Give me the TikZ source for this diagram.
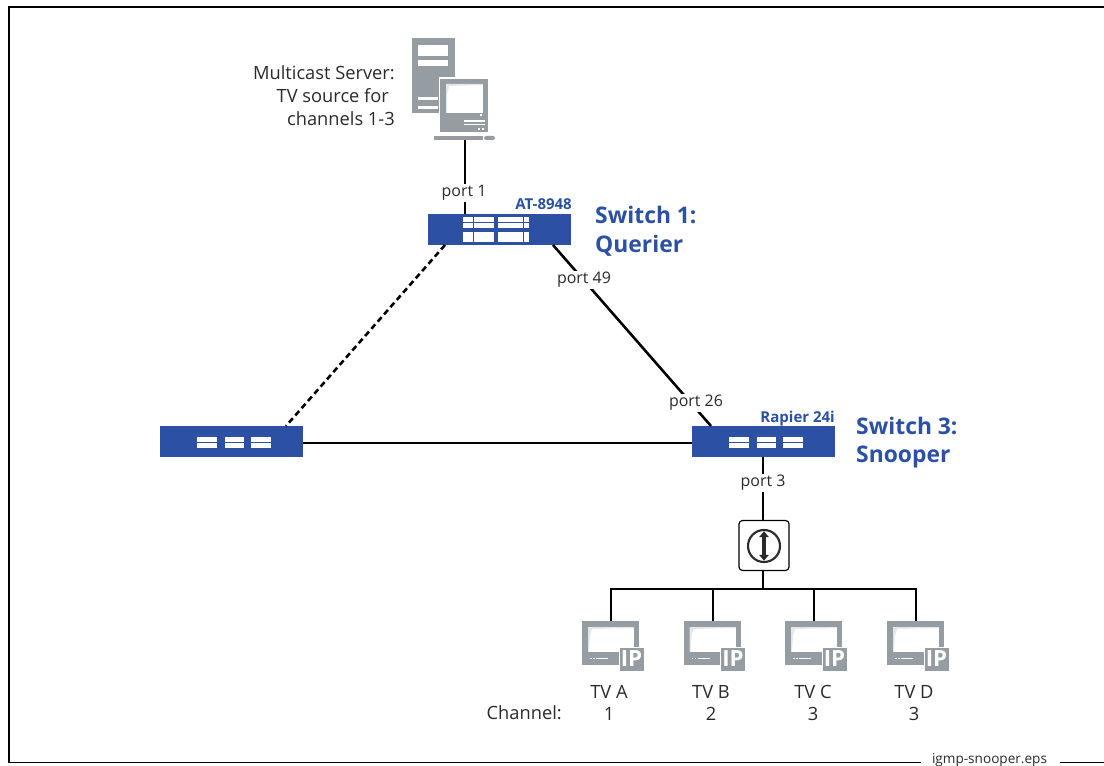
\documentclass[tikz,border=0pt]{standalone}
\usepackage{fontspec}
\setmainfont{Open Sans}
\usetikzlibrary{arrows.meta}
\definecolor{swblue}{HTML}{2B50A4}
\definecolor{icongrey}{HTML}{959CA2}
\definecolor{inkgrey}{HTML}{2A2A2A}
\tikzset{
  link/.style={line width=2.2pt,black},
  frameline/.style={line width=1.4pt,black},
  switchbox/.style={fill=swblue,draw=none,inner sep=0pt,minimum width=4.29cm,minimum height=0.93cm},
  portlabel/.style={fill=white,inner sep=1pt,text=inkgrey,font=\fontsize{13.6}{15}\selectfont},
  plainlabel/.style={text=inkgrey,inner sep=0pt,font=\fontsize{15.6}{19.6}\selectfont},
  modellabel/.style={text=swblue,inner sep=0pt,font=\bfseries\fontsize{12.8}{14}\selectfont},
  rolelabel/.style={text=swblue,inner sep=0pt,align=left,font=\bfseries\fontsize{19.5}{24.5}\selectfont}
}
\newcommand{\threeports}[1]
{   \foreach \px in {0,27.5,54}
      {\fill[white] ({#1+\px},437) rectangle ++(19.5,11);
       \fill[swblue] ({#1+\px},442) rectangle ++(19.5,1.3);}
}
\newcommand{\tvicon}[3]
{ \begin{scope}[shift={(#1,#2)}]
   \fill[icongrey] (0,0) rectangle (57,44);
   \fill[white] (6,6) rectangle (52,31);
   \fill[icongrey!25] (6,6) -- (52,6) -- (52,7) -- (10,8) .. controls (8,12) .. (7,31) -- (6,31) -- cycle;
   \fill[white] (14,36.5) rectangle (26,38);
   \fill[white] (8,36.5) rectangle (9.5,38);
   \fill[white] (11,36.5) rectangle (12.5,38);
   \fill[icongrey,draw=white,line width=0.8pt] (37,26) rectangle (62,50);
   \node[text=white,inner sep=0pt,font=\bfseries\fontsize{19}{19}\selectfont] (#3) at (49.5,38) {IP};
 \end{scope}
}
\begin{document}
\begin{tikzpicture}[x=0.03cm,y=-0.03cm]
 \useasboundingbox (0,0) rectangle (1104,766);

 \draw[frameline] (1104,7) -- (9,7) -- (9,762.5) -- (921,762.5);
 \draw[frameline] (1060,762.5) -- (1104,762.5);
 \node[plainlabel,font=\fontsize{11.6}{13}\selectfont] (epsname) at (989.5,760) {igmp-snooper.eps};

 \fill[icongrey] (412,38) rectangle (455,113);
 \fill[white] (418,45) rectangle (448,56);
 \fill[white] (418,60) rectangle (448,66);
 \fill[white] (418,97) rectangle (438,100);
 \fill[white] (418,106) rectangle (438,109);
 \fill[icongrey,draw=white,line width=1.5pt] (439.5,78) rectangle (489,133);
 \fill[white] (446,84) rectangle (483,113);
 \fill[icongrey!25] (446,84) -- (483,84) -- (483,85) -- (449,86) .. controls (447,92) .. (447,113) -- (446,113) -- cycle;
 \fill[white] (480,114.5) rectangle (482,116.5);
 \fill[white] (464,120.5) rectangle (485,122);
 \fill[white] (464,124) rectangle (485,125.5);
 \fill[white] (478,128) rectangle (480,130);
 \fill[white] (482,128) rectangle (484,130);
 \fill[icongrey] (434,136) rectangle (483,140);
 \fill[icongrey,rounded corners=1.8pt] (484,136) rectangle (495,140);
 \coordinate (server) at (465,140);
 \node[plainlabel,align=right,anchor=east] (serverlabel) at (395,96) {Multicast Server:\\TV source for\hspace*{5pt}\mbox{}\\channels 1-3};

 \node[switchbox] (sw1) at (499.5,229.5) {};
 \node[switchbox] (sw2) at (231.5,441.5) {};
 \node[switchbox] (sw3) at (763.5,441.5) {};

 \coordinate (sw1top) at (465,214);
 \coordinate (sw1left) at (445,245);
 \coordinate (sw1right) at (553,245);
 \coordinate (sw2top) at (286,426);
 \coordinate (sw2east) at (303,443);
 \coordinate (sw3top) at (711,426);
 \coordinate (sw3west) at (692,443);
 \coordinate (sw3bot) at (763,457);

 \draw[link] (server) -- (sw1top);
 \draw[link,dash pattern=on 5pt off 3.2pt] (sw1left) -- (sw2top);
 \draw[link] (sw1right) -- (sw3top);
 \draw[link] (sw2east) -- (sw3west);

 \fill[white] (463,217) rectangle (494,228);
 \fill[white] (498,217) rectangle (529,228);
 \fill[white] (463,232) rectangle (494,242);
 \fill[white] (498,232) rectangle (529,242);
 \fill[swblue] (463,222) rectangle (529,223.2);
 \fill[swblue] (473,217) rectangle (474,242);
 \fill[swblue] (523,217) rectangle (524,242);
 \threeports{197}
 \threeports{729}

 \node[draw=black,fill=white,line width=1pt,rounded corners=3pt,inner sep=0pt,minimum size=1.5cm] (hub) at (764,545.5) {};
 \node[draw=inkgrey,line width=1.8pt,circle,inner sep=0pt,minimum size=0.96cm] (hubdial) at (764,546) {};
 \draw[inkgrey,line width=3pt,{Triangle[width=8pt,length=5pt]}-{Triangle[width=8pt,length=5pt]}] ([yshift=-0.07cm]hubdial.north) -- ([yshift=0.07cm]hubdial.south);

 \coordinate (bus) at (763,589);
 \coordinate (buswest) at (610,589);
 \coordinate (buseast) at (917,589);
 \draw[link] (sw3bot) -- (hub.north -| sw3bot);
 \draw[link] (hub.south -| sw3bot) -- (bus);
 \draw[link] (buswest) -- (buseast);

 \tvicon{582}{621}{ipa}
 \tvicon{683.5}{621}{ipb}
 \tvicon{785}{621}{ipc}
 \tvicon{887}{621}{ipd}
 \coordinate (tva) at (611,621);
 \coordinate (tvb) at (713,621);
 \coordinate (tvc) at (814,621);
 \coordinate (tvd) at (916,621);
 \foreach \tv in {tva,tvb,tvc,tvd}
   \draw[link] (\tv |- bus) -- (\tv);

 \node[portlabel] (port1) at (464,193) {port 1};
 \node[portlabel] (port49) at (584,280) {port 49};
 \node[portlabel] (port26) at (696,403) {port 26};
 \node[portlabel] (port3) at (763,483) {port 3};

 \node[modellabel,anchor=east] (model1) at (572,204) {AT-8948};
 \node[modellabel,anchor=east] (model3) at (835,419) {Rapier 24i};
 \node[rolelabel,anchor=west] (role1) at (595,231.5) {Switch 1:\\Querier};
 \node[rolelabel,anchor=west] (role3) at (856,442.5) {Switch 3:\\Snooper};

 \node[plainlabel] (nameA) at (609,692) {TV A};
 \node[plainlabel] (nameB) at (711,692) {TV B};
 \node[plainlabel] (nameC) at (813,692) {TV C};
 \node[plainlabel] (nameD) at (914,692) {TV D};
 \node[plainlabel] (chanA) at (609,714) {1};
 \node[plainlabel] (chanB) at (711,714) {2};
 \node[plainlabel] (chanC) at (813,714) {3};
 \node[plainlabel] (chanD) at (914,714) {3};
 \node[plainlabel,anchor=east] (chanlabel) at (562,713) {Channel:};
\end{tikzpicture}
\end{document}
